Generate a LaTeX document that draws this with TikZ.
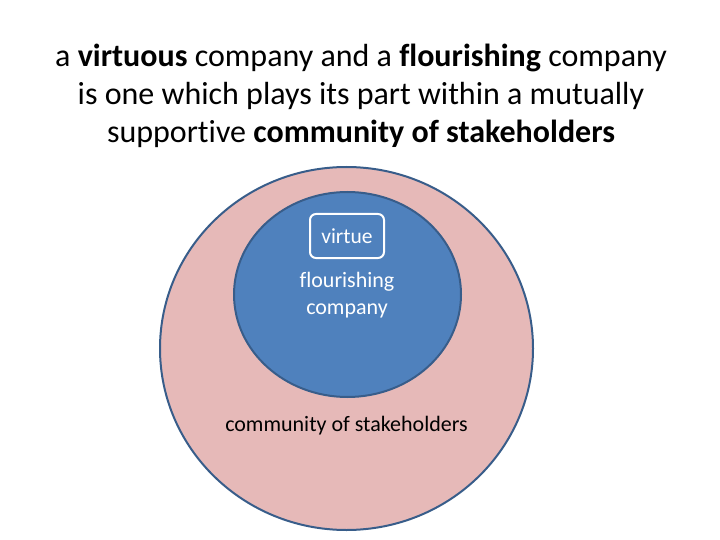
\documentclass[tikz,border=0pt]{standalone}
\usepackage{fontspec}
\setmainfont{Carlito}[Ligatures=NoCommon]
\usetikzlibrary{shapes.geometric}
\definecolor{pinkfill}{RGB}{230,185,184}
\definecolor{bluefill}{RGB}{79,129,189}
\definecolor{edgeblue}{RGB}{56,93,138}
\tikzset{
  ring/.style={ellipse, draw=edgeblue, line width=2pt, inner sep=0pt},
  virtuebox/.style={draw=white, line width=2pt, rounded corners=6pt, minimum width=74pt, minimum height=44pt, inner sep=0pt, text=white, font=\fontsize{21.5}{26}\selectfont},
  intext/.style={align=center, font=\fontsize{22}{27}\selectfont}
}
\begin{document}
\begin{tikzpicture}[x=1pt,y=-1pt]
\useasboundingbox (0,0) rectangle (720,540);
\node[align=center, font=\fontsize{32}{38}\selectfont] (title) at (361,96)
  {a \textbf{virtuous} company and a \textbf{flourishing} company\\
   is one which plays its part within a mutually\\
   supportive \textbf{community of stakeholders}};
\node[ring, fill=pinkfill, minimum width=373pt, minimum height=363pt] (outer) at (346.5,348.5) {};
\node[ring, fill=bluefill, minimum width=227pt, minimum height=205pt] (inner) at (347.5,294.5) {};
\node[virtuebox] (virtue) at (347,236) {virtue};
\node[intext, text=white] (flour) at (347,295) {flourishing\\company};
\node[intext, text=black] (comm) at (346.5,426) {community of stakeholders};
\end{tikzpicture}
\end{document}
